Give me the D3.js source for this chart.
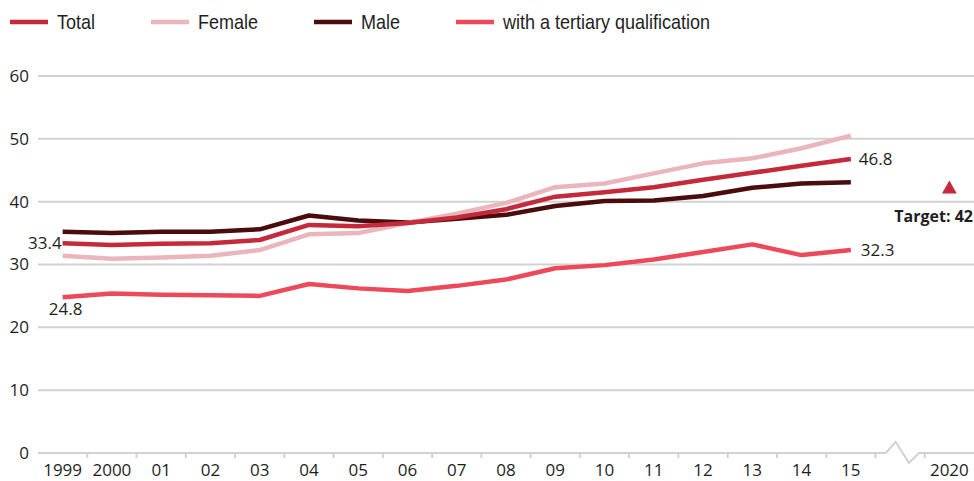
<!DOCTYPE html>
<html>
<head>
<meta charset="utf-8">
<script src="https://cdn.jsdelivr.net/npm/d3@7"></script>
<style>
  body { margin: 0; background: #fff; }
  svg { display: block; }
  text { font-family: "Open Sans", sans-serif; fill: #1e1e1e; }
  .legend text { font-family: "Liberation Sans", Arial, sans-serif; font-size: 20px; }
</style>
</head>
<body>
<svg width="974" height="481"></svg>
<script>
// years shown on the axis (the gap stands for the axis break)
const years = [1999, 2000, 2001, 2002, 2003, 2004, 2005, 2006, 2007, 2008,
               2009, 2010, 2011, 2012, 2013, 2014, 2015, "gap", 2020];
const yearLabels = ["1999", "2000", "01", "02", "03", "04", "05", "06", "07", "08",
                    "09", "10", "11", "12", "13", "14", "15", "", "2020"];
const dataYears = years.slice(0, 17);

const total    = [33.4, 33.1, 33.3, 33.4, 33.9, 36.3, 36.1, 36.6, 37.5, 38.8, 40.8, 41.5, 42.3, 43.5, 44.6, 45.7, 46.8];
const female   = [31.4, 30.9, 31.1, 31.4, 32.3, 34.8, 35.0, 36.6, 38.1, 39.8, 42.3, 42.9, 44.5, 46.1, 46.9, 48.5, 50.5];
const male     = [35.2, 35.0, 35.2, 35.2, 35.6, 37.8, 37.0, 36.7, 37.3, 37.9, 39.3, 40.1, 40.2, 40.9, 42.2, 42.9, 43.1];
const tertiary = [24.8, 25.4, 25.2, 25.1, 25.0, 26.9, 26.2, 25.8, 26.6, 27.6, 29.4, 29.9, 30.8, 32.0, 33.2, 31.5, 32.3];
const target = { year: 2020, value: 42 };

const yTicks = [0, 10, 20, 30, 40, 50, 60];

const seriesList = [
  { name: "Total", values: total, color: "#c42a3a" },
  { name: "Female", values: female, color: "#ebb5bc" },
  { name: "Male", values: male, color: "#4a0c0c" },
  { name: "with a tertiary qualification", values: tertiary, color: "#ec4a5b" }
];

const svg = d3.select("svg");
const mLeft = 38, mRight = 974, mTop = 76, mBottom = 453;

const x = d3.scaleBand().domain(years).range([mLeft, mRight]).paddingInner(0).paddingOuter(0);
const y = d3.scaleLinear().domain([0, 60]).range([mBottom, mTop]);
const cx = d => x(d) + x.bandwidth() / 2;

// gridlines
svg.append("g")
  .selectAll("line")
  .data(yTicks.filter(d => d > 0))
  .join("line")
  .attr("x1", mLeft).attr("x2", mRight)
  .attr("y1", d => y(d)).attr("y2", d => y(d))
  .attr("stroke", "#d2d2d2").attr("stroke-width", 2);

// y labels
svg.append("g")
  .selectAll("text")
  .data(yTicks)
  .join("text")
  .attr("x", 29)
  .attr("y", d => y(d))
  .attr("dy", "0.35em")
  .attr("text-anchor", "end")
  .style("font-size", "17px")
  .text(d => d);

// x axis line with a break in the gap band
const gx = x("gap");
const step = x.step();
const axisPts = [
  [mLeft, mBottom], [gx + step * 0.21, mBottom], [gx + step * 0.41, mBottom - 11],
  [gx + step * 0.68, mBottom + 10], [gx + step * 0.88, mBottom], [mRight, mBottom]
];
svg.append("path")
  .attr("d", d3.line()(axisPts))
  .attr("fill", "none")
  .attr("stroke", "#d2d2d2")
  .attr("stroke-width", 2);

// ticks between the bands
svg.append("g")
  .selectAll("line")
  .data(years.slice(1))
  .join("line")
  .attr("x1", d => x(d)).attr("x2", d => x(d))
  .attr("y1", mBottom).attr("y2", mBottom + 5)
  .attr("stroke", "#d2d2d2").attr("stroke-width", 2);

svg.append("g")
  .selectAll("text")
  .data(years)
  .join("text")
  .attr("x", d => cx(d))
  .attr("y", 476)
  .attr("text-anchor", "middle")
  .style("font-size", "17px")
  .text((d, i) => yearLabels[i]);

// lines
const line = d3.line()
  .x((d, i) => cx(dataYears[i]))
  .y(d => y(d));

svg.append("g")
  .selectAll("path")
  .data(seriesList.slice().reverse())
  .join("path")
  .attr("d", d => line(d.values))
  .attr("fill", "none")
  .attr("stroke", d => d.color)
  .attr("stroke-width", 4.5)
  .attr("stroke-linejoin", "round");

// end labels
const first = 0, last = dataYears.length - 1;
const lbl = svg.append("g").style("font-size", "17px");
lbl.append("text")
  .attr("x", cx(dataYears[first]) - 1)
  .attr("y", y(total[first]))
  .attr("dy", "0.35em")
  .attr("text-anchor", "end")
  .text(total[first].toFixed(1));
lbl.append("text")
  .attr("x", cx(dataYears[first]) + 3)
  .attr("y", y(tertiary[first]) + 18)
  .attr("text-anchor", "middle")
  .text(tertiary[first].toFixed(1));
lbl.append("text")
  .attr("x", cx(dataYears[last]) + 8)
  .attr("y", y(total[last]))
  .attr("dy", "0.35em")
  .text(total[last].toFixed(1));
lbl.append("text")
  .attr("x", cx(dataYears[last]) + 10)
  .attr("y", y(tertiary[last]))
  .attr("dy", "0.35em")
  .text(tertiary[last].toFixed(1));

// target marker
svg.append("path")
  .attr("d", d3.symbol(d3.symbolTriangle, 95)())
  .attr("transform", `translate(${cx(target.year)},${y(target.value)})`)
  .attr("fill", "#c42a3a");
svg.append("text")
  .attr("x", 973)
  .attr("y", y(target.value) + 33)
  .attr("text-anchor", "end")
  .style("font-size", "16px")
  .style("font-weight", "bold")
  .text("Target: " + target.value);

// legend (text squeezed horizontally to mimic the condensed face)
const legend = svg.append("g").attr("class", "legend");
const squeeze = 0.9;
let lx = 10;
seriesList.forEach(s => {
  legend.append("line")
    .attr("x1", lx).attr("x2", lx + 38)
    .attr("y1", 22).attr("y2", 22)
    .attr("stroke", s.color).attr("stroke-width", 4.5);
  const t = legend.append("text")
    .attr("transform", `translate(${lx + 47},29) scale(${squeeze},1)`)
    .text(s.name);
  lx += 47 + t.node().getComputedTextLength() * squeeze + 56;
});
</script>
</body>
</html>
